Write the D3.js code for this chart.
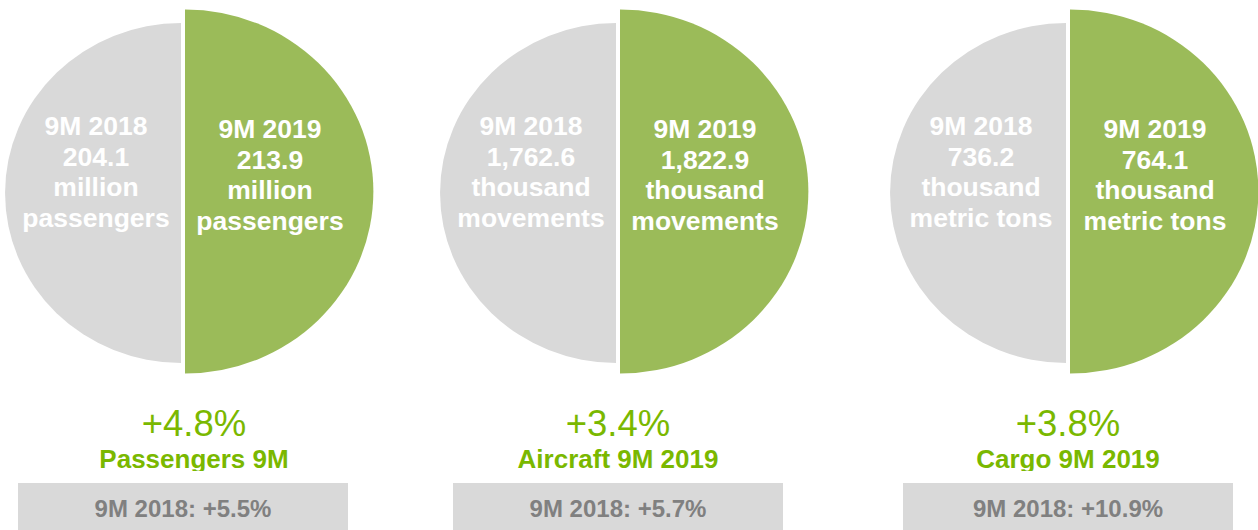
<!DOCTYPE html>
<html>
<head>
<meta charset="utf-8">
<script src="https://cdn.jsdelivr.net/npm/d3@7"></script>
<style>
  body { margin: 0; background: #fff; }
  svg { display: block; font-family: "Liberation Sans", Arial, sans-serif; }
</style>
</head>
<body>
<svg id="chart" width="1258" height="530"></svg>
<script>
// data
var categories = ['Passengers 9M', 'Aircraft 9M 2019', 'Cargo 9M 2019'];
var prevLabel = '9M 2018';
var currLabel = '9M 2019';
var prevValues = [204.1, 1762.6, 736.2];
var currValues = [213.9, 1822.9, 764.1];
var unitLines = [['million', 'passengers'], ['thousand', 'movements'], ['thousand', 'metric tons']];
var growth = [4.8, 3.4, 3.8];
var prevGrowth = [5.5, 5.7, 10.9];

var W = 1258, H = 530;
var svg = d3.select('#chart');

// group centres (slightly uneven in the original slide)
var xScale = d3.scaleOrdinal().domain(categories).range([183, 618, 1068]);
var fmtVal = d3.format(',.1f');
var fmtPct = function(v){ return d3.format('+.1f')(v) + '%'; };

var green = '#9bbb59', grey = '#d9d9d9', textGreen = '#7ab800', boxText = '#808080';

var rPrev = 170, rCurr = 182;
var sx = 1.035; // reference is slightly stretched horizontally

var arcPrev = d3.arc().innerRadius(0).outerRadius(rPrev).startAngle(Math.PI).endAngle(2*Math.PI);
var arcCurr = d3.arc().innerRadius(0).outerRadius(rCurr).startAngle(0).endAngle(Math.PI);

// clip for the bold title (its descenders are cut in the original)
svg.append('defs').append('clipPath').attr('id', 'titleClip')
  .attr('clipPathUnits', 'userSpaceOnUse')
  .append('rect').attr('x', -W).attr('y', 0).attr('width', 2*W).attr('height', 471);

var groups = svg.selectAll('g.grp').data(categories).enter().append('g')
  .attr('class', 'grp')
  .attr('transform', function(d){ return 'translate(' + xScale(d) + ',0)'; });

// halves
groups.append('path')
  .attr('d', arcPrev)
  .attr('fill', grey)
  .attr('transform', 'translate(-2,193) scale(' + sx + ',1)');

groups.append('path')
  .attr('d', arcCurr)
  .attr('fill', green)
  .attr('transform', 'translate(2,191.5) scale(' + sx + ',1)');

// texts in halves
var lh = 30.7;
function halfText(sel, dx, y0, label, values){
  var t = sel.append('text')
    .attr('text-anchor', 'middle')
    .attr('fill', '#fff')
    .attr('font-weight', 'bold')
    .attr('font-size', 26.5);
  t.each(function(d, i){
    var lines = [label, fmtVal(values[i])].concat(unitLines[i]);
    d3.select(this).selectAll('tspan').data(lines).enter().append('tspan')
      .attr('x', dx)
      .attr('y', function(l, j){ return y0 + j*lh; })
      .text(function(l){ return l; });
  });
}
halfText(groups, -87, 135, prevLabel, prevValues);
halfText(groups, 87, 138, currLabel, currValues);

// growth %
groups.append('text')
  .attr('text-anchor', 'middle')
  .attr('x', function(d, i){ return i == 0 ? 11 : 0; })
  .attr('y', 436)
  .attr('fill', textGreen)
  .attr('font-size', 36.5)
  .text(function(d, i){ return fmtPct(growth[i]); });

groups.append('g').attr('clip-path', 'url(#titleClip)')
  .append('text')
  .attr('text-anchor', 'middle')
  .attr('x', function(d, i){ return i == 0 ? 11 : 0; })
  .attr('y', 468)
  .attr('fill', textGreen)
  .attr('font-weight', 'bold')
  .attr('font-size', 26)
  .text(function(d){ return d; });

// previous-year box
groups.append('rect')
  .attr('x', -165).attr('y', 483)
  .attr('width', 330).attr('height', 50)
  .attr('fill', grey);

groups.append('text')
  .attr('text-anchor', 'middle')
  .attr('y', 517)
  .attr('fill', boxText)
  .attr('font-weight', 'bold')
  .attr('font-size', 24)
  .text(function(d, i){ return prevLabel + ': ' + fmtPct(prevGrowth[i]); });
</script>
</body>
</html>
